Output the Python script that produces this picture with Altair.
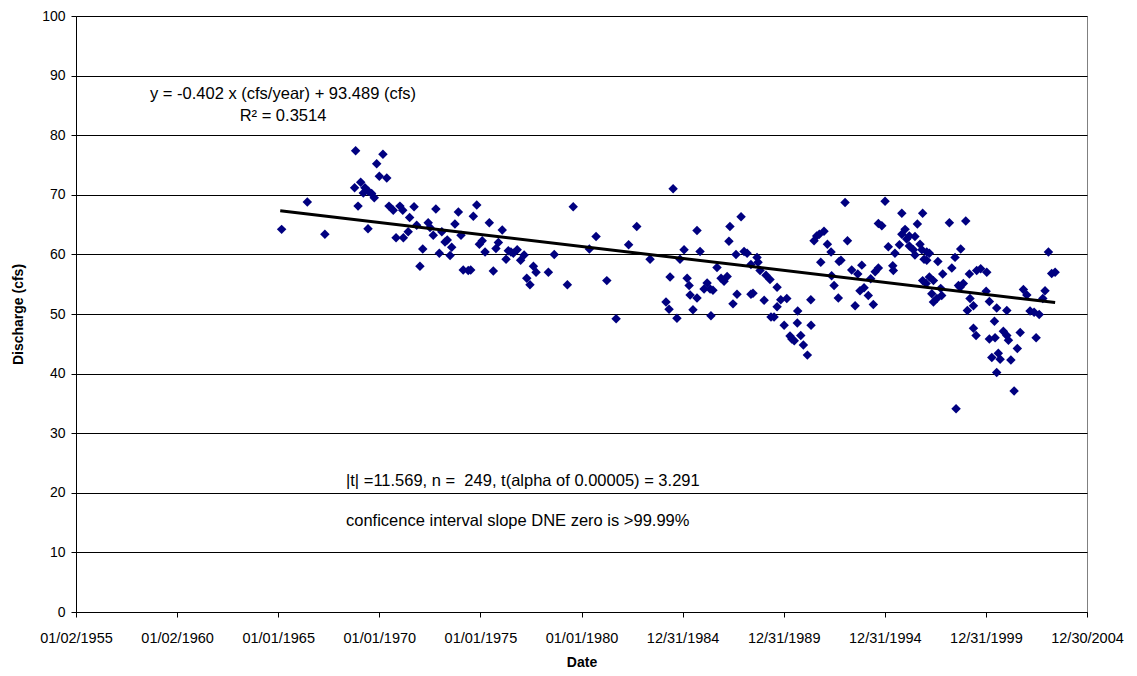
import altair as alt
import pandas as pd

# Decimal years and discharge (cfs)
years = [
    1965.17, 1966.44, 1967.31, 1968.83, 1968.78, 1969.08, 1968.95, 1969.21, 1969.29, 1969.46,
    1969.44, 1969.62, 1969.75, 1969.87, 1970.00, 1970.18, 1970.37, 1970.48, 1970.69, 1970.83,
    1971.02, 1971.16, 1971.19, 1971.50, 1971.43,
    1971.72, 1971.85, 1972.01, 1972.15, 1972.42, 1972.51, 1972.67, 1972.80, 1972.97, 1973.09,
    1973.25, 1973.36, 1973.50, 1973.58, 1973.74, 1973.91, 1974.04, 1974.15, 1974.40, 1974.52,
    1974.65, 1974.82, 1974.95, 1975.09, 1975.23, 1975.44, 1975.64, 1975.77, 1975.89, 1976.08,
    1976.27, 1976.38, 1976.51, 1976.63, 1976.82, 1976.99, 1977.16, 1977.29, 1977.45, 1977.62,
    1977.75,
    1978.36, 1978.65, 1979.30, 1979.59, 1980.39, 1980.72, 1981.25, 1981.71, 1982.33, 1982.73,
    1983.39,
    1984.53, 1984.18, 1984.33, 1984.72, 1984.38, 1984.87, 1985.07, 1985.71, 1985.86, 1985.22,
    1985.32, 1985.37, 1985.51, 1985.71, 1986.06, 1986.21, 1986.36, 1986.40, 1986.50, 1986.70,
    1986.90, 1987.05, 1987.20, 1987.29, 1987.34, 1987.49, 1987.64, 1987.69, 1987.89, 1988.04,
    1988.19, 1988.38, 1988.38, 1988.48, 1988.68, 1988.73, 1988.83, 1989.03, 1989.12, 1989.32,
    1989.37, 1989.52, 1989.67, 1989.67,
    1989.85, 1990.15, 1990.02, 1990.31, 1990.40, 1990.52, 1990.69, 1990.67, 1990.84, 1990.97,
    1991.17, 1991.34, 1991.35, 1991.50, 1991.63, 1991.76, 1991.99, 1991.83, 1992.16, 1992.34,
    1992.37, 1992.49, 1992.74, 1992.83, 1992.70, 1993.03, 1993.15, 1993.36, 1993.53, 1993.66,
    1993.77, 1993.86, 1993.97, 1994.18,
    1994.30, 1994.43, 1994.52, 1994.68, 1994.68, 1994.85, 1995.01, 1995.17, 1995.39, 1995.42,
    1995.50, 1995.72, 1995.84, 1995.84, 1996.00, 1996.08, 1996.21, 1996.21, 1996.41, 1996.49,
    1996.49, 1996.61, 1996.74, 1996.83, 1996.87, 1996.94, 1997.07, 1997.20, 1997.07, 1996.87,
    1997.04, 1997.20, 1997.40, 1997.32, 1997.40, 1997.57, 1997.62, 1997.76, 1997.81, 1997.86,
    1998.19, 1998.31, 1998.47, 1998.52, 1998.64, 1998.72, 1998.75, 1998.88, 1999.00, 1999.08,
    1999.18, 1999.21, 1999.38, 1999.38, 1999.51, 1999.54,
    1999.74, 2000.04, 2000.01, 2000.17, 2000.53, 2001.03, 2001.85, 2002.02, 2002.18, 2002.38,
    2002.63, 2002.81, 2002.92, 2003.09, 2003.25, 2003.42, 2000.42, 2000.17, 2000.45, 2000.86,
    2001.03, 2001.11, 2001.69, 2002.48, 2001.55, 2000.29, 2000.61, 2000.70, 2001.23, 2000.53,
    2001.39,
]

discharge = [
    64.2, 68.8, 63.4, 77.4, 71.2, 72.1, 68.1, 70.3, 71.2, 70.6,
    64.3, 70.2, 69.5, 75.2, 73.1, 76.8, 72.8, 68.1, 67.4, 62.8,
    68.1, 67.4, 62.8, 66.2, 63.8,
    68.0, 64.9, 58.0, 60.9, 65.3, 64.5, 63.2, 67.6, 60.2, 63.8,
    62.1, 62.4, 59.8, 61.2, 65.1, 67.1, 63.2, 57.4, 57.3, 57.4,
    66.4, 68.3, 61.7, 62.3, 60.4, 65.3, 57.2, 61.0, 62.0, 64.1,
    59.2, 60.6, 60.4, 60.2, 60.8, 59.0, 59.9, 56.0, 54.9, 58.0,
    57.0,
    57.0, 60.0, 54.9, 68.0, 60.9, 63.0, 55.6, 49.2, 61.6, 64.7,
    59.2,
    71.0, 52.0, 50.8, 49.3, 56.2, 59.2, 60.8, 64.0, 60.5, 56.0,
    54.8, 53.2, 50.7, 52.7, 54.2, 55.2, 54.2, 49.7, 54.0, 57.8,
    56.0, 55.5, 56.3, 62.2, 64.7, 51.7, 60.0, 53.3, 66.3, 60.5,
    60.2, 58.3, 53.3, 53.5, 59.5, 58.7, 57.3, 52.3, 56.5, 55.8,
    49.5, 49.5, 54.5, 51.2,
    52.4, 52.6, 48.1, 46.3, 45.8, 45.5, 50.5, 48.5, 46.4, 44.8,
    43.1, 52.4, 48.1, 62.3, 63.1, 63.4, 63.9, 58.7, 61.7, 60.4,
    56.4, 54.8, 58.8, 59.0, 52.7, 68.7, 62.3, 57.4, 51.4, 56.7,
    53.9, 58.2, 54.4, 53.1,
    55.9, 51.6, 57.1, 57.7, 65.2, 64.8, 68.9, 61.3, 58.1, 57.3,
    60.2, 61.6, 66.9, 63.4, 64.2, 62.6, 63.1, 61.4, 60.8, 59.9,
    63.0, 65.1, 61.7, 60.8, 66.9, 59.2, 60.4, 60.2, 59.0, 55.6,
    55.1, 56.2, 55.6, 53.4, 52.0, 52.6, 58.8, 54.3, 53.1, 56.7,
    65.3, 57.7, 59.5, 34.1, 54.8, 54.5, 60.9, 55.1, 65.6, 50.6,
    56.7, 52.6, 51.4, 47.6, 46.4, 57.3,
    57.6, 57.0, 53.8, 52.1, 51.0, 50.6, 54.1, 53.2, 50.5, 50.3,
    49.9, 52.6, 53.9, 60.4, 56.8, 57.0, 48.8, 45.8, 46.0, 47.1,
    46.4, 45.6, 46.9, 46.0, 44.2, 42.7, 43.4, 42.4, 42.3, 40.2,
    37.1,
]

# Trend line: y = -0.402 x + 93.489, x = years since 1900
trend_years = [1965.1, 2003.42]
slope, intercept = -0.402, 93.489

tick_dates = [(1955, 1, 2), (1960, 1, 2), (1965, 1, 1), (1970, 1, 1), (1975, 1, 1),
              (1980, 1, 1), (1984, 12, 31), (1989, 12, 31), (1994, 12, 31),
              (1999, 12, 31), (2004, 12, 30)]
y_ticks = list(range(0, 101, 10))


def to_ts(y):
    base = pd.Timestamp(year=int(y), month=1, day=1)
    return base + pd.Timedelta(days=(y - int(y)) * 365.25)


pts = pd.DataFrame({"Date": [to_ts(y) for y in years], "Discharge": discharge})
trend = pd.DataFrame({
    "Date": [to_ts(y) for y in trend_years],
    "Discharge": [slope * (y - 1900) + intercept for y in trend_years],
})
one = pd.DataFrame({"k": [0]})

x_scale = alt.Scale(domain=[alt.DateTime(year=1955, month=1, date=2),
                            alt.DateTime(year=2004, month=12, date=30)], nice=False)
y_scale = alt.Scale(domain=[0, 100], nice=False)

x_enc = alt.X("Date:T", scale=x_scale, title="Date",
              axis=alt.Axis(values=[alt.DateTime(year=a, month=b, date=c) for a, b, c in tick_dates],
                            format="%m/%d/%Y", grid=False, labelPadding=14,
                            titlePadding=11, labelFlush=False, labelOverlap=False,
                            labelFontSize=14.5))
y_enc = alt.Y("Discharge:Q", scale=y_scale, title="Discharge (cfs)",
              axis=alt.Axis(values=y_ticks, grid=True, labelPadding=6, titlePadding=16))

points = alt.Chart(pts).mark_point(shape="diamond", filled=True, size=90,
                                    color="#000080", opacity=1).encode(x=x_enc, y=y_enc)

line = alt.Chart(trend).mark_line(color="black", strokeWidth=3).encode(
    x="Date:T", y="Discharge:Q")

texts = [
    ("y = -0.402 x (cfs/year) + 93.489 (cfs)", 207, 78, "center"),
    ("R\u00b2 = 0.3514", 207, 100, "center"),
    ("|t| =11.569, n = \u00a0249, t(alpha of 0.00005) = 3.291", 270, 465, "left"),
    ("conficence interval slope DNE zero is >99.99%", 270, 505, "left"),
]
text_layers = [
    alt.Chart(one).mark_text(text=t, align=a, baseline="middle", fontSize=16.5,
                             font="Liberation Sans", color="black").encode(
        x=alt.value(x), y=alt.value(y))
    for t, x, y, a in texts
]

chart = alt.layer(points, line, *text_layers).properties(
    width=1011, height=596,
    autosize=alt.AutoSizeParams(type="none"),
    padding={"left": 68, "top": 8, "right": 40, "bottom": 60},
).configure(font="Liberation Sans").configure_axis(
    labelFontSize=14, labelColor="black", titleFontSize=14, titleFontWeight="bold",
    titleColor="black", domainColor="black", tickColor="black", tickSize=5,
    gridColor="black", gridWidth=1, gridOpacity=1, labelFont="Liberation Sans",
    titleFont="Liberation Sans",
).configure_view(stroke="#808080", strokeWidth=1)

chart.save("out.html", embed_options={"renderer": "svg", "actions": False})
